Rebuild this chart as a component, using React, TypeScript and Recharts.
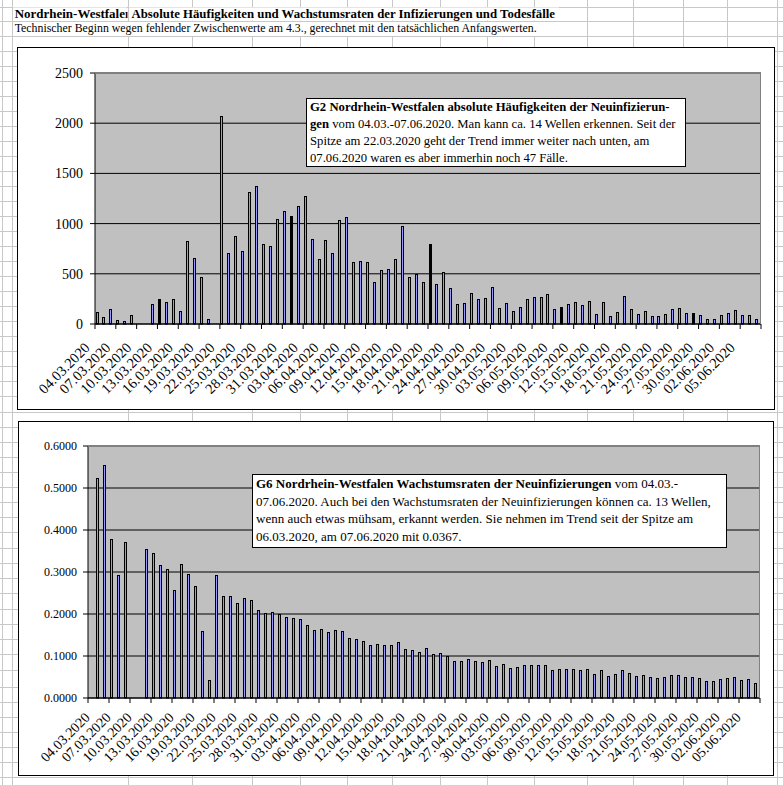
import React from 'react';
import { BarChart, Bar, XAxis, YAxis, CartesianGrid } from 'recharts';

const SERIF = '"Liberation Serif", "Times New Roman", serif';

const dates: string[] = [
  '04.03.2020', '05.03.2020', '06.03.2020', '07.03.2020', '08.03.2020', '09.03.2020', '10.03.2020',
  '11.03.2020', '12.03.2020', '13.03.2020', '14.03.2020', '15.03.2020', '16.03.2020', '17.03.2020',
  '18.03.2020', '19.03.2020', '20.03.2020', '21.03.2020', '22.03.2020', '23.03.2020', '24.03.2020',
  '25.03.2020', '26.03.2020', '27.03.2020', '28.03.2020', '29.03.2020', '30.03.2020', '31.03.2020',
  '01.04.2020', '02.04.2020', '03.04.2020', '04.04.2020', '05.04.2020', '06.04.2020', '07.04.2020',
  '08.04.2020', '09.04.2020', '10.04.2020', '11.04.2020', '12.04.2020', '13.04.2020', '14.04.2020',
  '15.04.2020', '16.04.2020', '17.04.2020', '18.04.2020', '19.04.2020', '20.04.2020', '21.04.2020',
  '22.04.2020', '23.04.2020', '24.04.2020', '25.04.2020', '26.04.2020', '27.04.2020', '28.04.2020',
  '29.04.2020', '30.04.2020', '01.05.2020', '02.05.2020', '03.05.2020', '04.05.2020', '05.05.2020',
  '06.05.2020', '07.05.2020', '08.05.2020', '09.05.2020', '10.05.2020', '11.05.2020', '12.05.2020',
  '13.05.2020', '14.05.2020', '15.05.2020', '16.05.2020', '17.05.2020', '18.05.2020', '19.05.2020',
  '20.05.2020', '21.05.2020', '22.05.2020', '23.05.2020', '24.05.2020', '25.05.2020', '26.05.2020',
  '27.05.2020', '28.05.2020', '29.05.2020', '30.05.2020', '31.05.2020', '01.06.2020', '02.06.2020',
  '03.06.2020', '04.06.2020', '05.06.2020', '06.06.2020', '07.06.2020',
];

const newInfections: (number | null)[] = [
  120, 70, 150, 43, 33, 90, null, null, 200, 252,
  219, 252, 130, 827, 657, 468, 53, null, 2072, 710,
  876, 727, 1315, 1375, 800, 780, 1046, 1129, 1079, 1179,
  1278, 847, 651, 837, 710, 1036, 1066, 621, 627, 621,
  418, 538, 548, 647, 979, 468, 495, 418, 800, 398,
  521, 359, 199, 209, 309, 252, 259, 369, 159, 209,
  130, 169, 249, 269, 269, 299, 149, 169, 199, 219,
  189, 229, 100, 219, 80, 120, 279, 149, 100, 130,
  80, 80, 100, 149, 159, 110, 110, 90, 50, 50,
  90, 110, 139, 90, 90, 47,
];

const growthRates: (number | null)[] = [
  null, 0.5238, 0.5556, 0.3786, 0.2929, 0.3714, null, null, 0.3548, 0.3452,
  0.3167, 0.3071, 0.2571, 0.3190, 0.2952, 0.2667, 0.1595, 0.0429, 0.2929, 0.2429,
  0.2429, 0.2262, 0.2381, 0.2333, 0.2095, 0.2024, 0.2048, 0.2000, 0.1929, 0.1905,
  0.1881, 0.1738, 0.1619, 0.1643, 0.1571, 0.1619, 0.1595, 0.1429, 0.1405, 0.1357,
  0.1262, 0.1286, 0.1262, 0.1262, 0.1333, 0.1167, 0.1143, 0.1095, 0.1190, 0.1048,
  0.1071, 0.1000, 0.0881, 0.0881, 0.0929, 0.0881, 0.0857, 0.0905, 0.0762, 0.0810,
  0.0714, 0.0738, 0.0786, 0.0786, 0.0786, 0.0786, 0.0667, 0.0690, 0.0690, 0.0690,
  0.0667, 0.0690, 0.0571, 0.0667, 0.0524, 0.0571, 0.0667, 0.0595, 0.0524, 0.0548,
  0.0500, 0.0476, 0.0500, 0.0548, 0.0548, 0.0500, 0.0500, 0.0476, 0.0405, 0.0405,
  0.0452, 0.0476, 0.0500, 0.0429, 0.0452, 0.0367,
];

const infectionTicks = [0, 500, 1000, 1500, 2000, 2500];
const rateTicks = [0, 0.1, 0.2, 0.3, 0.4, 0.5, 0.6];
const darkBarsTop = ['13.03.2020', '01.04.2020', '21.04.2020', '10.05.2020', '29.05.2020'];

const infectionData = dates.map((d, i) => ({ date: d, value: newInfections[i] }));
const rateData = dates.map((d, i) => ({ date: d, value: growthRates[i] }));

type Cfg = {
  left: number; top: number; w: number; h: number;
  yAxisW: number; mTop: number; mRight: number; xAxisH: number;
  labelDx: number; labelDy: number; labelFont: number; yFont: number; yMargin: number;
};

const TOP: Cfg = { left: 17, top: 47, w: 758, h: 363, yAxisW: 78, mTop: 26, mRight: 14, xAxisH: 86, labelDx: -7.8, labelDy: 24.5, labelFont: 14.5, yFont: 14, yMargin: 7 };
const BOT: Cfg = { left: 18, top: 421, w: 756, h: 355, yAxisW: 70, mTop: 25, mRight: 14, xAxisH: 78, labelDx: -0.8, labelDy: 20.3, labelFont: 14, yFont: 12, yMargin: 6 };

const plotW = (c: Cfg) => c.w - c.yAxisW - c.mRight;
const plotH = (c: Cfg) => c.h - c.mTop - c.xAxisH;

function makeTick(c: Cfg) {
  return (props: any) => {
    const { x, payload } = props;
    const bw = plotW(c) / dates.length;
    const axisY = c.mTop + plotH(c);
    const bx = x - bw / 2;
    const ox = x + c.labelDx;
    const oy = axisY + c.labelDy;
    const isLast = payload.value === dates[dates.length - 3];
    return (
      <g>
        <line x1={bx} x2={bx} y1={axisY} y2={axisY + 5} stroke="#000" strokeWidth={1} />
        {isLast && <line x1={bx + 3 * bw} x2={bx + 3 * bw} y1={axisY} y2={axisY + 5} stroke="#000" strokeWidth={1} />}
        <text x={ox} y={oy} transform={`rotate(-45 ${ox} ${oy})`} textAnchor="end" fill="#000"
          style={{ fontFamily: SERIF, fontSize: c.labelFont }}>
          {payload.value}
        </text>
      </g>
    );
  };
}

function makeShape(dark: string[]) {
  return (p: any) => {
    const { x, y, width, height, payload } = p;
    if (height == null || !isFinite(height) || height <= 0) return <g />;
    const c = Math.round(x + width / 2 - 1.5 - 0.5) + 0.5;
    const top = Math.round(y) + 0.5;
    const bottom = y + height;
    const isDark = payload && dark.includes(payload.date);
    return (
      <rect x={c - 1} y={top} width={2} height={Math.max(0, bottom - top)} fill={isDark ? '#000' : '#9999ff'} stroke="#000" strokeWidth={1} />
    );
  };
}

const TopTick = makeTick(TOP);
const BotTick = makeTick(BOT);
const TopShape = makeShape(darkBarsTop);
const BotShape = makeShape([]);

function ChartBox({ c, data, ticks, domain, fmt, tick, shape }: any) {
  const pw = plotW(c);
  const ph = plotH(c);
  return (
    <>
      <div style={{ position: 'absolute', left: c.left, top: c.top, width: c.w, height: c.h, background: '#fff' }}>
        <BarChart width={c.w} height={c.h} data={data} margin={{ top: c.mTop, right: c.mRight, left: 0, bottom: 0 }} barCategoryGap={0} barGap={0}>
          <CartesianGrid vertical={false} stroke="#000" fill="#c0c0c0" />
          <XAxis dataKey="date" interval={2} height={c.xAxisH} tick={tick} tickLine={false} axisLine={{ stroke: '#000' }} />
          <YAxis width={c.yAxisW} domain={domain} ticks={ticks} interval={0} tickFormatter={fmt} tickSize={5} tickMargin={c.yMargin}
            axisLine={{ stroke: '#000' }} tickLine={{ stroke: '#000' }}
            tick={{ fontSize: c.yFont, fill: '#000', style: { fontFamily: SERIF, fontSize: c.yFont } }} />
          <Bar dataKey="value" barSize={3} isAnimationActive={false} shape={shape} />
        </BarChart>
        <div style={{ position: 'absolute', left: c.yAxisW, top: c.mTop, width: pw, height: ph, borderTop: '1px solid #808080', borderRight: '1px solid #808080', boxSizing: 'border-box', pointerEvents: 'none' }} />
      </div>
      <div style={{ position: 'absolute', left: c.left, top: c.top, width: c.w, height: c.h, border: '1.5px solid #000', boxSizing: 'border-box', pointerEvents: 'none' }} />
    </>
  );
}

const COLS = [2, 12, 128, 192, 252, 300, 347, 392, 440, 487, 534, 587, 633, 683, 727, 777];
const ROWS_TOP = [6.5, 21, 36, 51, 66, 81, 96, 111, 126, 141, 156, 171, 186, 201, 216, 231, 246, 261, 276, 291, 306, 321, 336, 351, 366, 381, 396];
const ROWS_BOT = [411.5, 426.5, 441.5, 456.5, 472, 487, 502, 517, 532, 548, 563, 578, 593, 609, 624, 639, 654, 670, 687, 702, 717, 732, 747, 762, 777];

const serifStyle = (size: number, bold = false): React.CSSProperties => ({ fontFamily: SERIF, fontSize: size, fontWeight: bold ? 'bold' : 'normal' });

function SheetGrid() {
  const g = '#c8c8c8';
  return (
    <svg width={783} height={785} style={{ position: 'absolute', left: 0, top: 0 }}>
      <rect x={0} y={0} width={783} height={785} fill="#fff" />
      {[...ROWS_TOP, ...ROWS_BOT].map((y) => (
        <line key={'r' + y} x1={0} x2={783} y1={Math.round(y) + 0.5} y2={Math.round(y) + 0.5} stroke={g} strokeWidth={1} />
      ))}
      {COLS.map((x) => (
        <line key={'c' + x} x1={x + 0.5} x2={x + 0.5} y1={0} y2={785} stroke={g} strokeWidth={1} />
      ))}
      <rect x={13} y={7.5} width={114} height={13} fill="#fff" />
      <rect x={129} y={7.5} width={430} height={13} fill="#fff" />
      <rect x={13} y={22} width={528} height={14} fill="#fff" />
      <defs>
        <clipPath id="cellA1">
          <rect x={0} y={0} width={127.5} height={22} />
        </clipPath>
      </defs>
      <text x={14.7} y={18.3} fill="#000" style={serifStyle(12.6, true)} textLength={117.5} lengthAdjust="spacingAndGlyphs" clipPath="url(#cellA1)">
        Nordrhein-Westfalen
      </text>
      <text x={131.5} y={18.3} fill="#000" style={serifStyle(12.6, true)} textLength={423.5} lengthAdjust="spacingAndGlyphs">
        Absolute Häufigkeiten und Wachstumsraten der Infizierungen und Todesfälle
      </text>
      <text x={14.7} y={31.7} fill="#000" style={serifStyle(12.6)} textLength={522} lengthAdjust="spacingAndGlyphs">
        Technischer Beginn wegen fehlender Zwischenwerte am 4.3., gerechnet mit den tatsächlichen Anfangswerten.
      </text>
    </svg>
  );
}

const noteBase: React.CSSProperties = {
  position: 'absolute', boxSizing: 'border-box', border: '1px solid #000', background: '#fff',
  paddingLeft: 3, fontFamily: SERIF, whiteSpace: 'nowrap', color: '#000',
};

export default function App() {
  return (
    <div style={{ position: 'absolute', left: 0, top: 0, width: 783, height: 785, overflow: 'hidden', background: '#fff', fontFamily: SERIF }}>
      <SheetGrid />
      <ChartBox c={TOP} data={infectionData} ticks={infectionTicks} domain={[0, 2500]} fmt={(v: number) => String(v)} tick={TopTick} shape={TopShape} />
      <ChartBox c={BOT} data={rateData} ticks={rateTicks} domain={[0, 0.6]} fmt={(v: number) => v.toFixed(4)} tick={BotTick} shape={BotShape} />
      <div style={{ ...noteBase, left: 306, top: 98, width: 380, height: 69, fontSize: 12.7, lineHeight: '17px' }}>
        <b>G2 Nordrhein-Westfalen absolute Häufigkeiten der Neuinfizierun-</b><br />
        <b>gen</b> vom 04.03.-07.06.2020. Man kann ca. 14 Wellen erkennen. Seit der<br />
        Spitze am 22.03.2020 geht der Trend immer weiter nach unten, am<br />
        07.06.2020 waren es aber immerhin noch 47 Fälle.
      </div>
      <div style={{ ...noteBase, left: 252, top: 474, width: 475, height: 74, fontSize: 13, lineHeight: '17.6px' }}>
        <b>G6 Nordrhein-Westfalen Wachstumsraten der Neuinfizierungen</b> vom 04.03.-<br />
        07.06.2020. Auch bei den Wachstumsraten der Neuinfizierungen können ca. 13 Wellen,<br />
        wenn auch etwas mühsam, erkannt werden. Sie nehmen im Trend seit der Spitze am<br />
        06.03.2020, am 07.06.2020 mit 0.0367.
      </div>
    </div>
  );
}
